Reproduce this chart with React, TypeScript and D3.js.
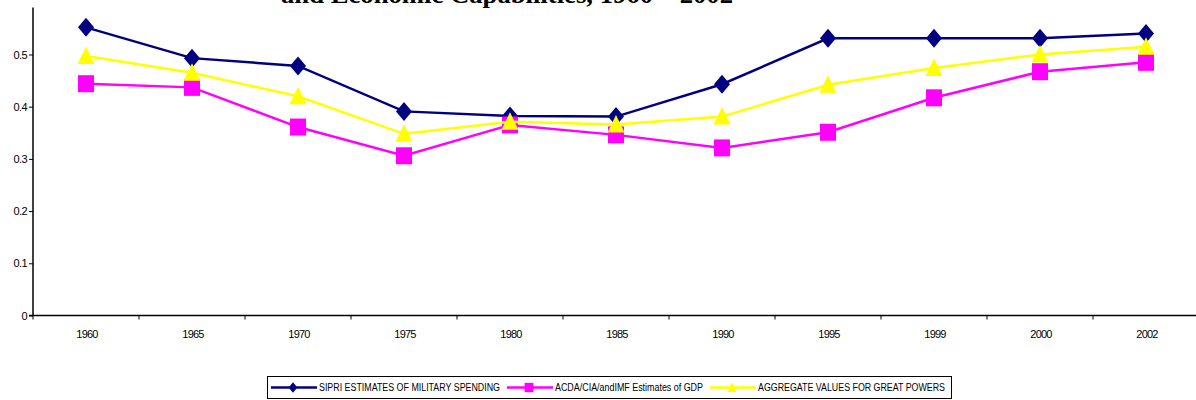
import * as d3 from "d3";
import { useEffect, useRef } from "react";

const years = ["1960", "1965", "1970", "1975", "1980", "1985", "1990", "1995", "1999", "2000", "2002"];
const sipri = [0.552, 0.493, 0.478, 0.391, 0.382, 0.381, 0.443, 0.531, 0.531, 0.531, 0.540];
const acda = [0.444, 0.437, 0.361, 0.306, 0.365, 0.346, 0.321, 0.351, 0.417, 0.467, 0.485];
const aggregate = [0.497, 0.465, 0.420, 0.348, 0.371, 0.366, 0.381, 0.442, 0.474, 0.500, 0.515];
const yTicks = [0, 0.1, 0.2, 0.3, 0.4, 0.5];

const seriesNames = [
  "SIPRI ESTIMATES OF MILITARY SPENDING",
  "ACDA/CIA/andIMF Estimates of GDP",
  "AGGREGATE VALUES FOR GREAT POWERS",
];

// marker shapes (Excel style)
const markerPath = (k: number, s: number) => {
  if (k === 0) return `M0,${-9.5 * s}L${8 * s},0L0,${9.5 * s}L${-8 * s},0Z`;
  if (k === 1) return `M${-8 * s},${-8.5 * s}H${8 * s}V${8.5 * s}H${-8 * s}Z`;
  return `M0,${-9.5 * s}L${8.5 * s},${8 * s}H${-8.5 * s}Z`;
};

function App() {
  const ref = useRef<SVGSVGElement>(null);

  useEffect(() => {
    const svg = d3.select(ref.current);
    svg.selectAll("*").remove();

    const font = "'Liberation Sans', Arial, sans-serif";

    // Title (cropped at the top in the original)
    svg
      .append("text")
      .attr("x", 507)
      .attr("y", 2.5)
      .attr("text-anchor", "middle")
      .attr("font-family", "'Liberation Serif', 'Times New Roman', serif")
      .attr("font-weight", "bold")
      .attr("font-size", 26)
      .attr("textLength", 452)
      .attr("lengthAdjust", "spacingAndGlyphs")
      .text("and Economic Capabilities, 1960 \u2013 2002");

    // scales
    const xScale = d3.scaleBand().domain(years).range([33, 33 + 106 * 11]);
    const yScale = d3.scaleLinear().domain([0, 0.59]).range([315.5, 7.5]);

    // y axis
    const yAxis = svg
      .append("g")
      .attr("transform", "translate(33,0)")
      .call(d3.axisLeft(yScale).tickValues(yTicks).tickSize(4).tickFormat((d) => String(+d)));
    yAxis.select(".domain").attr("stroke", "#000").attr("stroke-width", 1.5).attr("d", `M0,${yScale(0.59)}V${yScale(0)}`);
    yAxis.selectAll(".tick line").attr("stroke", "#000");
    yAxis
      .selectAll("text")
      .attr("font-family", font)
      .attr("font-size", 11)
      .attr("letter-spacing", -0.6)
      .attr("fill", "#000")
      .attr("x", -6);

    // x axis - ticks at band boundaries
    const xAxis = svg.append("g").attr("transform", `translate(0,${yScale(0)})`);
    xAxis
      .append("line")
      .attr("x1", 29)
      .attr("x2", 1196)
      .attr("stroke", "#000")
      .attr("stroke-width", 1.5);
    xAxis
      .selectAll(".xtick")
      .data(years)
      .enter()
      .append("line")
      .attr("x1", (d) => xScale(d)!)
      .attr("x2", (d) => xScale(d)!)
      .attr("y1", 0)
      .attr("y2", 4)
      .attr("stroke", "#000");
    xAxis
      .selectAll(".xlabel")
      .data(years)
      .enter()
      .append("text")
      .attr("x", (d) => xScale(d)! + xScale.bandwidth() / 2 + 1)
      .attr("y", 22)
      .attr("text-anchor", "middle")
      .attr("font-family", font)
      .attr("font-size", 11)
      .attr("letter-spacing", -0.8)
      .text((d) => d);

    const cx = (i: number) => xScale(years[i])! + xScale.bandwidth() / 2;

    const line = d3
      .line<number>()
      .x((_, i) => cx(i))
      .y((d) => yScale(d));

    const colors = ["#000080", "#ff00ff", "#ffff00"];
    const all = [sipri, acda, aggregate];

    all.forEach((data, k) => {
      const g = svg.append("g");
      g.append("path")
        .datum(data)
        .attr("fill", "none")
        .attr("stroke", colors[k])
        .attr("stroke-width", 2.5)
        .attr("d", line);
      g.selectAll("path.marker")
        .data(data)
        .enter()
        .append("path")
        .attr("class", "marker")
        .attr("fill", colors[k])
        .attr("d", markerPath(k, 1))
        .attr("transform", (d, i) => `translate(${cx(i)},${yScale(d)})`);
    });

    // Legend
    const legend = svg.append("g");
    legend
      .append("rect")
      .attr("x", 267.5)
      .attr("y", 376.5)
      .attr("width", 684)
      .attr("height", 22)
      .attr("fill", "#fff")
      .attr("stroke", "#000")
      .attr("stroke-width", 1);

    const legendX = [271, 507, 710];
    const textW = [181, 148, 187];
    seriesNames.forEach((name, k) => {
      const lx = legendX[k];
      const ly = 387.5;
      legend
        .append("line")
        .attr("x1", lx)
        .attr("x2", lx + 46)
        .attr("y1", ly)
        .attr("y2", ly)
        .attr("stroke", colors[k])
        .attr("stroke-width", 2.5);
      legend
        .append("path")
        .attr("fill", colors[k])
        .attr("d", markerPath(k, 0.55))
        .attr("transform", `translate(${lx + 22},${ly})`);
      legend
        .append("text")
        .attr("x", lx + 48)
        .attr("y", ly + 3.5)
        .attr("font-family", font)
        .attr("font-size", 10)
        .attr("textLength", textW[k])
        .attr("lengthAdjust", "spacingAndGlyphs")
        .text(name);
    });
  }, []);

  return (
    <svg
      ref={ref}
      width={1196}
      height={400}
      style={{ position: "absolute", left: 0, top: 0, background: "#fff" }}
    />
  );
}

export default App;
